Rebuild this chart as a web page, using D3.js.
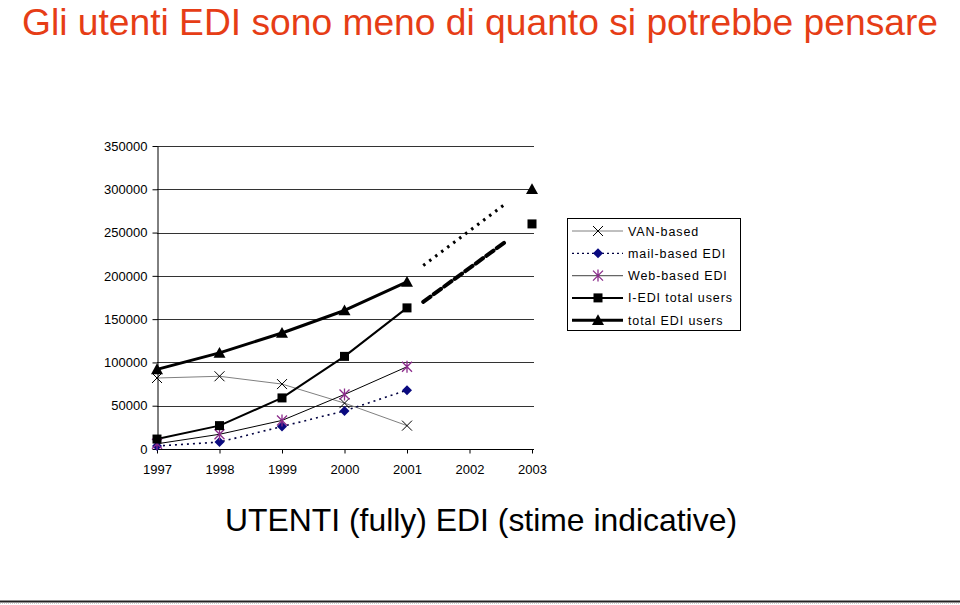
<!DOCTYPE html>
<html>
<head>
<meta charset="utf-8">
<script src="https://cdn.jsdelivr.net/npm/d3@7"></script>
<style>
  html, body { margin: 0; padding: 0; background: #fff; }
  svg { display: block; font-family: Arial, "Liberation Sans", sans-serif; }
</style>
</head>
<body>
<svg id="chart" width="960" height="605"></svg>
<script>
// ---- Data ----
const titleText = "Gli utenti EDI sono meno di quanto si potrebbe pensare";
const subtitleText = "UTENTI (fully) EDI (stime indicative)";
const years = [1997, 1998, 1999, 2000, 2001, 2002, 2003];
const yTicks = [0, 50000, 100000, 150000, 200000, 250000, 300000, 350000];
const vanBased   = [82000, 84000, 75000, 53000, 27000, null, null];
const mailBased  = [3500, 8000, 26000, 44000, 68000, null, null];
const webBased   = [6000, 17000, 33000, 63000, 95000, null, null];
const iediTotal  = [11500, 27000, 59000, 107000, 163000, null, 260000];
const totalEdi   = [92000, 111000, 134000, 160000, 193000, null, 300000];
// forecast trend segments (year, value)
const forecastTotal = [[2001.26, 212000], [2002.57, 283000]];
const forecastIedi  = [[2001.26, 170000], [2002.57, 239000]];
const legendLabels = ["VAN-based", "mail-based EDI", "Web-based EDI", "I-EDI total users", "total EDI users"];

// ---- Layout ----
const svg = d3.select("#chart");
const plot = { left: 157, right: 532, top: 146, bottom: 449, gridRight: 534 };

const x = d3.scaleLinear().domain([1997, 2003]).range([plot.left, plot.right]);
const y = d3.scaleLinear().domain([0, 350000]).range([plot.bottom, plot.top]);

// Title
svg.append("text")
  .attr("x", 22).attr("y", 34.5)
  .attr("font-size", 37.5)
  .attr("fill", "#E63D16")
  .attr("textLength", 916).attr("lengthAdjust", "spacingAndGlyphs")
  .text(titleText);

// Gridlines
svg.append("g").selectAll("line")
  .data(yTicks.filter(v => v > 0))
  .join("line")
  .attr("x1", plot.left).attr("x2", plot.gridRight)
  .attr("y1", d => Math.round(y(d)) + 0.5).attr("y2", d => Math.round(y(d)) + 0.5)
  .attr("stroke", "#333").attr("stroke-width", 1);

// Y axis
const yAxis = svg.append("g")
  .attr("transform", `translate(${plot.left + 0.5},0)`)
  .call(d3.axisLeft(y).tickValues(yTicks).tickSize(5).tickSizeOuter(0).tickPadding(5).tickFormat(d3.format("d")));
yAxis.selectAll("text").attr("font-size", 13).attr("fill", "#000").attr("font-family", "Arial, 'Liberation Sans', sans-serif");
yAxis.selectAll("line, path").attr("stroke", "#000");

// X axis
const xAxis = svg.append("g")
  .attr("transform", `translate(0,${plot.bottom + 0.5})`)
  .call(d3.axisBottom(x).tickValues(years).tickSize(4).tickSizeOuter(0).tickPadding(11).tickFormat(d3.format("d")));
xAxis.select(".domain").attr("d", `M${plot.left},0H${plot.gridRight}`);
xAxis.selectAll("text").attr("font-size", 13).attr("fill", "#000").attr("font-family", "Arial, 'Liberation Sans', sans-serif");
xAxis.selectAll("line, path").attr("stroke", "#000");

// ---- Series ----
const series = [
  { name: legendLabels[0], values: vanBased,  stroke: "#808080", width: 1,   dash: null,  marker: "x",       color: "#000" },
  { name: legendLabels[1], values: mailBased, stroke: "#000040", width: 1.6, dash: "2,4", marker: "diamond", color: "#0A0A80" },
  { name: legendLabels[2], values: webBased,  stroke: "#000",    width: 1,   dash: null,  marker: "star",    color: "#8B2C8B" },
  { name: legendLabels[3], values: iediTotal, stroke: "#000",    width: 2,   dash: null,  marker: "square",  color: "#000" },
  { name: legendLabels[4], values: totalEdi,  stroke: "#000",    width: 3,   dash: null,  marker: "triangle",color: "#000" }
];

const line = d3.line()
  .defined(d => d.v !== null)
  .x(d => x(d.year)).y(d => y(d.v));

function drawMarker(g, type, cx, cy, color) {
  if (type === "x") {
    const s = 5;
    g.append("path").attr("d", `M${cx - s},${cy - s}L${cx + s},${cy + s}M${cx - s},${cy + s}L${cx + s},${cy - s}`)
      .attr("stroke", color).attr("stroke-width", 1).attr("fill", "none");
  } else if (type === "diamond") {
    const s = 5;
    g.append("path").attr("d", `M${cx},${cy - s}L${cx + s},${cy}L${cx},${cy + s}L${cx - s},${cy}Z`)
      .attr("fill", color);
  } else if (type === "star") {
    const s = 5;
    g.append("path").attr("d",
      `M${cx - s},${cy - s}L${cx + s},${cy + s}M${cx - s},${cy + s}L${cx + s},${cy - s}M${cx},${cy - s - 1}L${cx},${cy + s + 1}`)
      .attr("stroke", color).attr("stroke-width", 1.3).attr("fill", "none");
  } else if (type === "square") {
    const s = 4.5;
    g.append("rect").attr("x", cx - s).attr("y", cy - s).attr("width", 2 * s).attr("height", 2 * s).attr("fill", color);
  } else if (type === "triangle") {
    const s = 6;
    g.append("path").attr("d", `M${cx},${cy - s}L${cx + s},${cy + s * 0.8}L${cx - s},${cy + s * 0.8}Z`).attr("fill", color);
  }
}

const gSeries = svg.append("g");
series.forEach(s => {
  const pts = years.map((yr, i) => ({ year: yr, v: s.values[i] }));
  gSeries.append("path")
    .datum(pts)
    .attr("d", line)
    .attr("fill", "none")
    .attr("stroke", s.stroke)
    .attr("stroke-width", s.width)
    .attr("stroke-dasharray", s.dash)
    .attr("stroke-linejoin", "round");
});
series.forEach(s => {
  const gm = gSeries.append("g");
  years.forEach((yr, i) => {
    if (s.values[i] !== null) drawMarker(gm, s.marker, x(yr), y(s.values[i]), s.color);
  });
});

// Forecast trend segments
const fLine = d3.line().x(d => x(d[0])).y(d => y(d[1]));
svg.append("path").datum(forecastTotal).attr("d", fLine)
  .attr("fill", "none").attr("stroke", "#000").attr("stroke-width", 3)
  .attr("stroke-dasharray", "2.5,5");
svg.append("path").datum(forecastIedi).attr("d", fLine)
  .attr("fill", "none").attr("stroke", "#000").attr("stroke-width", 4)
  .attr("stroke-dasharray", "9,4").attr("stroke-linecap", "round");

// ---- Legend ----
const lg = svg.append("g").attr("transform", "translate(567,218)");
lg.append("rect").attr("x", 0.5).attr("y", 0.5).attr("width", 173).attr("height", 112)
  .attr("fill", "#fff").attr("stroke", "#000").attr("stroke-width", 1);
const legendLine = [
  { stroke: "#808080", width: 1, dash: null },
  { stroke: "#000040", width: 1.3, dash: "2,3" },
  { stroke: "#666", width: 1.3, dash: null },
  { stroke: "#000", width: 2, dash: null },
  { stroke: "#000", width: 3, dash: null }
];
series.forEach((s, i) => {
  const cy = 13 + i * 22.3;
  lg.append("line").attr("x1", 5).attr("x2", 56).attr("y1", cy).attr("y2", cy)
    .attr("stroke", legendLine[i].stroke).attr("stroke-width", legendLine[i].width)
    .attr("stroke-dasharray", legendLine[i].dash);
  drawMarker(lg, s.marker, 31, cy, s.color);
  lg.append("text").attr("x", 61).attr("y", cy + 4.5)
    .attr("font-size", 12.5).attr("letter-spacing", 0.9).attr("fill", "#000")
    .text(s.name);
});

// Subtitle
svg.append("text")
  .attr("x", 225).attr("y", 531)
  .attr("font-size", 32).attr("fill", "#000")
  .attr("textLength", 512).attr("lengthAdjust", "spacingAndGlyphs")
  .text(subtitleText);

// Bottom rule
svg.append("line").attr("x1", 0).attr("x2", 960).attr("y1", 601.5).attr("y2", 601.5)
  .attr("stroke", "#222").attr("stroke-width", 2);
svg.append("line").attr("x1", 0).attr("x2", 960).attr("y1", 603).attr("y2", 603)
  .attr("stroke", "#999").attr("stroke-width", 1).attr("stroke-dasharray", "1,1");
</script>
</body>
</html>
